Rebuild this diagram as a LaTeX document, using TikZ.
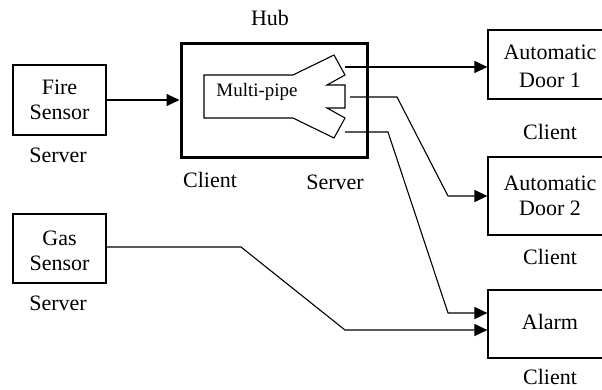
\documentclass[tikz,border=0pt]{standalone}
\usepackage{fontspec}
\setmainfont{Liberation Serif}
\newfontfamily\timesfont{Liberation Serif}
\usetikzlibrary{arrows.meta}
\begin{document}
\begin{tikzpicture}[x=1pt,y=-1pt,
  box/.style={draw,line width=1.2pt,inner sep=0pt},
  lbl/.style={font=\timesfont\fontsize{22}{27}\selectfont,inner sep=0pt,align=center},
  wire/.style={line width=1.1pt},
  arr/.style={wire,-{Triangle[length=13pt,width=12pt]}}]
\useasboundingbox (0,0) rectangle (602,389);
\clip (0,0) rectangle (602,389);

% sensors (servers)
\node[box,minimum width=93pt,minimum height=70pt] (fire) at (59.5,100) {};
\node[lbl] at (59.5,87) {Fire};
\node[lbl] at (59.5,112) {Sensor};
\node[lbl] (fireS) at (58,155) {Server};

\node[box,minimum width=93pt,minimum height=69pt] (gas) at (59.5,248.5) {};
\node[lbl] at (59.5,238) {Gas};
\node[lbl] at (59.5,263) {Sensor};
\node[lbl] (gasS) at (58,303) {Server};

% hub
\node[draw,line width=3pt,minimum width=186pt,minimum height=114pt,inner sep=0pt] (hub) at (274,100) {};
\node[lbl] (hubL) at (270,18) {Hub};
\node[lbl] (hubC) at (210,180) {Client};
\node[lbl] (hubS) at (335,182) {Server};

% multi-pipe inside the hub
\draw[line width=1.1pt] (204,75) -- (293,75) -- (334,55) -- (345,75) -- (327,85)
  -- (345,85) -- (345,108) -- (327,108) -- (345,118) -- (334,138) -- (293,118)
  -- (204,118) -- cycle;
\node[font=\timesfont\fontsize{19}{23}\selectfont,inner sep=0pt] (mp) at (257,92) {Multi-pipe};
\coordinate (p1) at (345,67);
\coordinate (p2) at (350,97);
\coordinate (p3) at (345,132);

% clients
\node[box,minimum width=132pt,minimum height=69pt] (door1) at (554,64.5) {};
\node[lbl] at (550,52) {Automatic};
\node[lbl] at (550,80) {Door 1};
\node[lbl] (d1C) at (550,132) {Client};

\node[box,minimum width=132pt,minimum height=78pt] (door2) at (554,196) {};
\node[lbl] at (550,183) {Automatic};
\node[lbl] at (550,208) {Door 2};
\node[lbl] (d2C) at (550,257) {Client};

\node[box,minimum width=132pt,minimum height=68pt] (alarm) at (554,324) {};
\node[lbl] at (550,322) {Alarm};
\node[lbl] (alC) at (550,377) {Client};

% connectors
\draw[arr] (fire.east) -- (hub.west);
\draw[arr] (p1) -- (door1.west |- p1);
\draw[arr] (p2) -- (397,97) -- (448,196) -- (door2.west |- 0,196);
\draw[arr] (p3) -- (388,132) -- (448,313) -- (alarm.west |- 0,313);
\draw[arr] (gas.east |- 0,247) -- (241,247) -- (345,330) -- (alarm.west |- 0,330);
\end{tikzpicture}
\end{document}
